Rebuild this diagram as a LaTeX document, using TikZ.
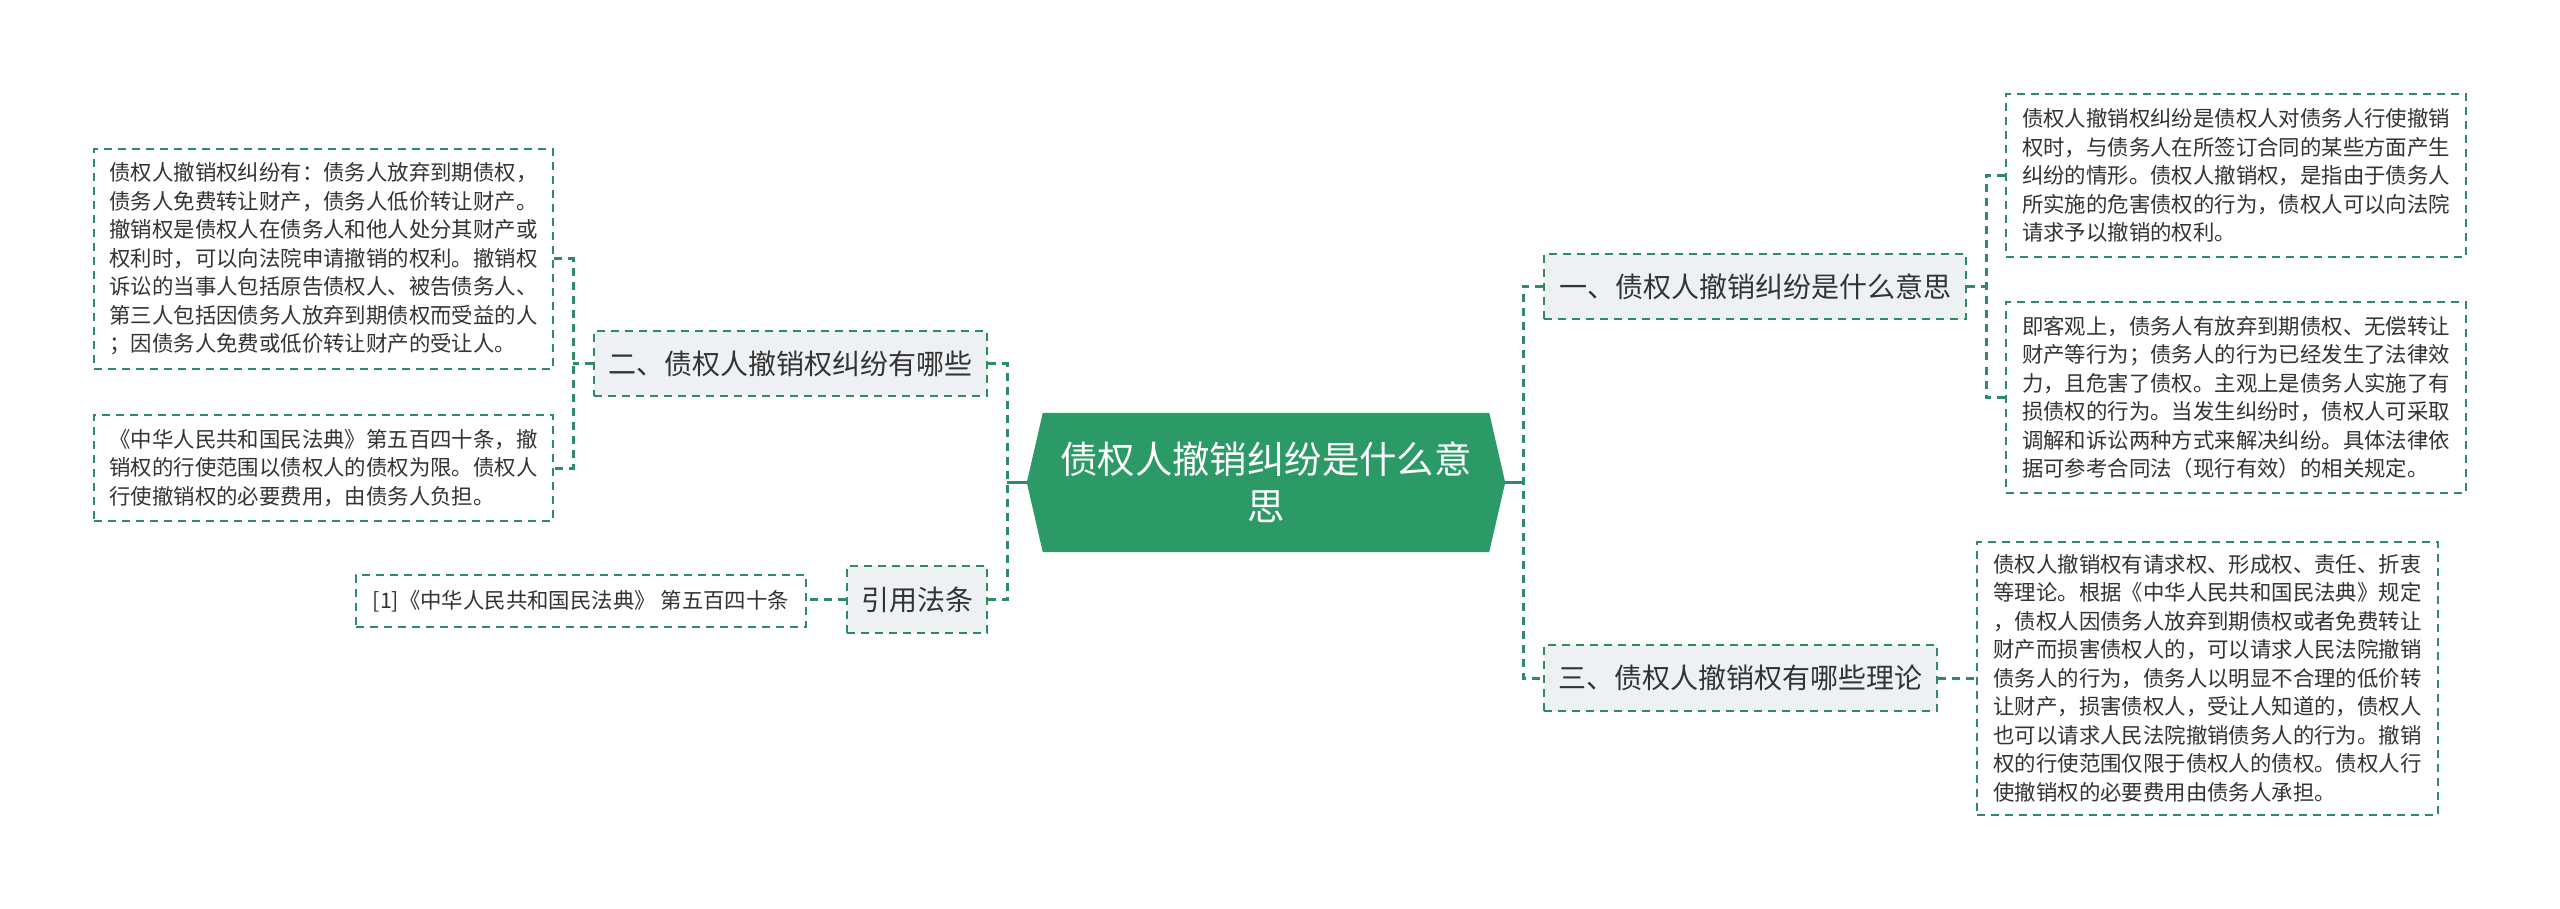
\documentclass[tikz,border=0pt]{standalone}
\usepackage{fontspec}
\setmainfont{Noto Sans CJK SC}
\definecolor{mgreen}{HTML}{2B9A66}
\definecolor{dgreen}{HTML}{2E8B62}
\definecolor{lvfill}{HTML}{EEF1F4}
\definecolor{txt}{HTML}{333333}
\tikzset{
  leaf/.style={draw=dgreen, line width=2pt, dash pattern=on 8pt off 6pt, fill=white,
    inner sep=0pt, align=left, text=txt, font=\fontsize{21.4}{28.5}\selectfont},
  lvone/.style={draw=dgreen, line width=2pt, dash pattern=on 8pt off 6pt, fill=lvfill,
    inner sep=0pt, align=center, text=txt, font=\fontsize{28}{34}\selectfont},
  conn/.style={draw=dgreen, line width=3pt, dash pattern=on 8pt off 6pt},
  stub/.style={draw=dgreen, line width=3pt},
  central/.style={inner sep=0pt, align=center, text=white, font=\fontsize{37.4}{47}\selectfont,
    minimum width=478pt, minimum height=139pt}
}
\begin{document}
\begin{tikzpicture}[x=1pt,y=-1pt]
\useasboundingbox[fill=white] (0,0) rectangle (2560,909);

% central node
\node[central] (c) at (1266,482.5) {};
\fill[mgreen] (c.west) -- ([xshift=16pt]c.north west) -- ([xshift=-16pt]c.north east) -- (c.east)
  -- ([xshift=-16pt]c.south east) -- ([xshift=16pt]c.south west) -- cycle;
\node[central] at (1266,482.5) {债权人撤销纠纷是什么意\\思};

% level one
\node[lvone, minimum width=422pt, minimum height=65pt] (n1) at (1755,286.5) {一、债权人撤销纠纷是什么意思};
\node[lvone, minimum width=393pt, minimum height=66pt] (n3) at (1740.5,678) {三、债权人撤销权有哪些理论};
\node[lvone, minimum width=393pt, minimum height=65pt] (n2) at (790.5,363.5) {二、债权人撤销权纠纷有哪些};
\node[lvone, minimum width=140pt, minimum height=67pt] (n4) at (917,599.5) {引用法条};

% leaves right
\node[leaf, minimum width=460pt, minimum height=163pt] (rA) at (2236,175.5) {债权人撤销权纠纷是债权人对债务人行使撤销\\权时，与债务人在所签订合同的某些方面产生\\纠纷的情形。债权人撤销权，是指由于债务人\\所实施的危害债权的行为，债权人可以向法院\\请求予以撤销的权利。};
\node[leaf, minimum width=460pt, minimum height=191pt] (rB) at (2236,397.5) {即客观上，债务人有放弃到期债权、无偿转让\\财产等行为；债务人的行为已经发生了法律效\\力，且危害了债权。主观上是债务人实施了有\\损债权的行为。当发生纠纷时，债权人可采取\\调解和诉讼两种方式来解决纠纷。具体法律依\\据可参考合同法（现行有效）的相关规定。};
\node[leaf, minimum width=461pt, minimum height=273pt] (rC) at (2207.5,678) {债权人撤销权有请求权、形成权、责任、折衷\\等理论。根据《中华人民共和国民法典》规定\\，债权人因债务人放弃到期债权或者免费转让\\财产而损害债权人的，可以请求人民法院撤销\\债务人的行为，债务人以明显不合理的低价转\\让财产，损害债权人，受让人知道的，债权人\\也可以请求人民法院撤销债务人的行为。撤销\\权的行使范围仅限于债权人的债权。债权人行\\使撤销权的必要费用由债务人承担。};

% leaves left
\node[leaf, minimum width=459pt, minimum height=220pt] (lA) at (323.5,259) {债权人撤销权纠纷有：债务人放弃到期债权，\\债务人免费转让财产，债务人低价转让财产。\\撤销权是债权人在债务人和他人处分其财产或\\权利时，可以向法院申请撤销的权利。撤销权\\诉讼的当事人包括原告债权人、被告债务人、\\第三人包括因债务人放弃到期债权而受益的人\\；因债务人免费或低价转让财产的受让人。};
\node[leaf, minimum width=459pt, minimum height=106pt] (lB) at (323.5,468) {《中华人民共和国民法典》第五百四十条，撤\\销权的行使范围以债权人的债权为限。债权人\\行使撤销权的必要费用，由债务人负担。};
\node[leaf, minimum width=450pt, minimum height=52pt] (lC) at (581,601) {[1]《中华人民共和国民法典》 第五百四十条};

% junctions
\coordinate (lj) at (1007,482.5);
\coordinate (rj) at (1523,482.5);
\coordinate (j1) at (1986,286.5);
\coordinate (j2) at (573,363.5);

% connectors
\draw[stub] (c.west) -- (lj);
\draw[stub] (c.east) -- (rj);
\draw[conn] (n2.east) -| (lj) |- (n4.east);
\draw[conn] (n1.west) -| (rj) |- (n3.west);
\draw[conn] (n1.east) -- (j1);
\draw[conn] (rA.west) -| (j1) |- (rB.west);
\draw[conn] (n3.east) -- (rC.west);
\draw[conn] (n2.west) -- (j2);
\draw[conn] (lA.east) -| (j2) |- (lB.east);
\draw[conn] (n4.west) -- (n4.west -| lC.east);
\end{tikzpicture}
\end{document}
